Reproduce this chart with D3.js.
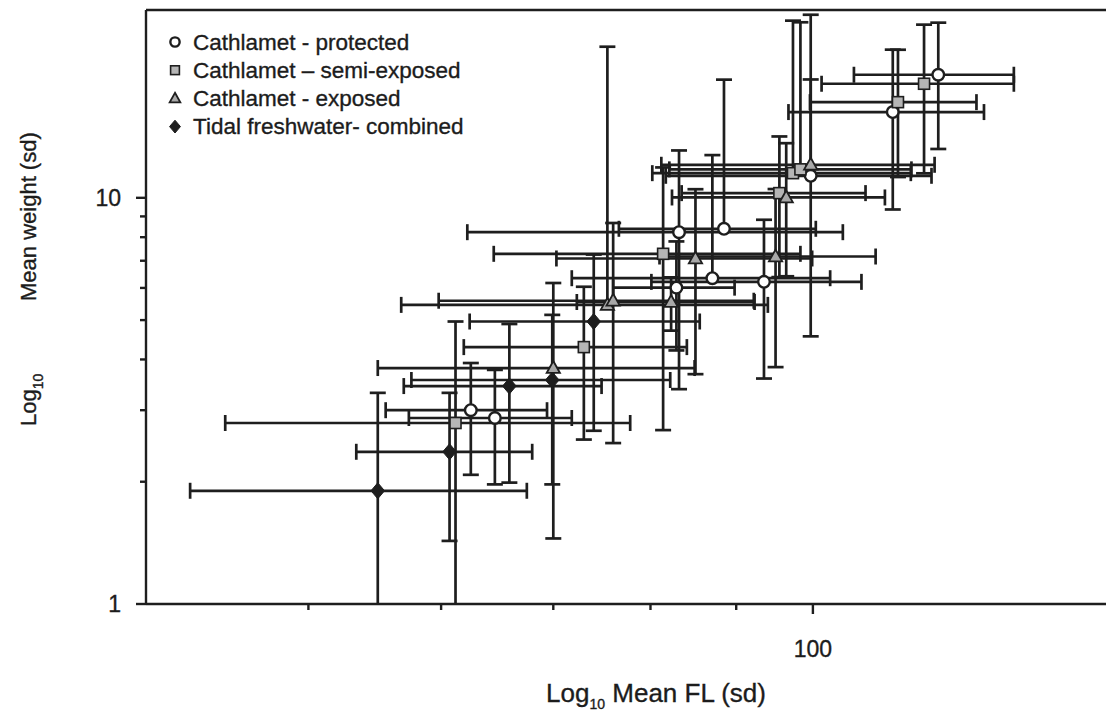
<!DOCTYPE html>
<html>
<head>
<meta charset="utf-8">
<script src="https://cdn.jsdelivr.net/npm/d3@7"></script>
<style>
  body { margin: 0; background: #fff; }
  text { font-family: "Liberation Sans", Arial, sans-serif; fill: #1c1c1c; stroke: #1c1c1c; stroke-width: 0.35px; }
</style>
</head>
<body>
<svg id="chart" width="1106" height="723"></svg>
<script>
// Mean fork length (mm) and mean weight (g), each with its standard deviation

// Cathlamet - protected
const protFL     = [62.5, 64.6, 83.2, 88.5, 82.9, 87.1, 93.5, 99.7, 111.6, 118.8];
const protFLsd   = [6.9, 7.2, 21.0, 11.9, 6.9, 15.3, 13.4, 18.0, 14.9, 13.0];
const protWt     = [3.00, 2.87, 8.23, 8.39, 6.01, 6.34, 6.21, 11.33, 16.26, 20.09];
const protWtsd   = [0.92, 0.90, 4.85, 11.15, 1.8, 6.4, 2.62, 16.9, 6.9, 6.9];

// Cathlamet - semi-exposed
const semiFL     = [61.2, 73.0, 81.4, 95.5, 97.3, 98.3, 112.4, 116.5];
const semiFLsd   = [16.6, 11.1, 16.9, 12.0, 17.1, 16.2, 12.8, 15.3];
const semiWt     = [2.79, 4.29, 7.28, 10.27, 11.5, 11.75, 17.2, 19.09];
const semiWtsd   = [2.17, 1.75, 4.6, 3.89, 15.8, 15.3, 5.95, 7.6];

// Cathlamet - exposed
const expFL      = [70.0, 75.4, 76.0, 82.3, 85.1, 95.0, 96.4, 99.7];
const expFLsd    = [15.0, 18.6, 16.2, 10.0, 14.8, 14.0, 14.0, 18.5];
const expWt      = [3.81, 5.45, 5.58, 5.54, 7.09, 7.17, 10.02, 12.06];
const expWtsd    = [2.36, 18.1, 3.09, 0.83, 3.41, 3.34, 3.61, 7.5];

// Tidal freshwater - combined
const tidalFL    = [55.0, 60.7, 65.9, 69.9, 74.0];
const tidalFLsd  = [12.5, 7.3, 8.9, 12.3, 11.6];
const tidalWt    = [1.90, 2.37, 3.44, 3.56, 4.96];
const tidalWtsd  = [1.41, 0.94, 1.45, 1.59, 2.29];

const seriesNames = ["Cathlamet - protected", "Cathlamet \u2013 semi-exposed",
                     "Cathlamet - exposed", "Tidal freshwater- combined"];
const seriesShapes = ["circle", "square", "triangle", "diamond"];

const xTickMajor = [100];
const xTickMinor = [50, 60, 70, 80, 90];
const yTickMajor = [1, 10];
const yTickMinor = [2, 3, 4, 5, 6, 7, 8, 9];

const xTitleMain = "Log", xTitleSub = "10", xTitleRest = " Mean FL (sd)";
const yTitleMain = "Log", yTitleSub = "10", yTitleRest = "Mean weight (sd)";

// ---------------------------------------------------------------------------
function buildSeries(fl, flsd, wt, wtsd) {
  return fl.map((v, i) => ({ x: v, xsd: flsd[i], y: wt[i], ysd: wtsd[i] }));
}
const series = [
  buildSeries(protFL, protFLsd, protWt, protWtsd),
  buildSeries(semiFL, semiFLsd, semiWt, semiWtsd),
  buildSeries(expFL, expFLsd, expWt, expWtsd),
  buildSeries(tidalFL, tidalFLsd, tidalWt, tidalWtsd)
];

const plot = { left: 146, right: 1108, top: 10, bottom: 604 };
const x = d3.scaleLog().domain([40, 150]).range([plot.left, plot.right]);
const y = d3.scaleLog().domain([1, 29]).range([plot.bottom, plot.top]);

const svg = d3.select("#chart");
const ink = "#1e1e1e";

svg.append("defs").append("clipPath").attr("id", "plotClip")
  .append("rect")
  .attr("x", plot.left).attr("y", plot.top)
  .attr("width", plot.right - plot.left).attr("height", plot.bottom - plot.top);

// ---- error bars -----------------------------------------------------------
const bars = svg.append("g").attr("clip-path", "url(#plotClip)")
  .attr("stroke", ink).attr("stroke-width", 2.7).attr("fill", "none");
const cap = 8;

series.forEach(pts => {
  pts.forEach(p => {
    const cx = x(p.x), cy = y(p.y);
    // horizontal (fork length)
    const hi = p.x + p.xsd, lo = p.x - p.xsd;
    bars.append("line").attr("x1", cx).attr("x2", x(hi)).attr("y1", cy).attr("y2", cy);
    bars.append("line").attr("x1", x(hi)).attr("x2", x(hi)).attr("y1", cy - cap).attr("y2", cy + cap);
    if (lo > 0) {
      bars.append("line").attr("x1", cx).attr("x2", x(lo)).attr("y1", cy).attr("y2", cy);
      bars.append("line").attr("x1", x(lo)).attr("x2", x(lo)).attr("y1", cy - cap).attr("y2", cy + cap);
    }
    // vertical (weight) - a non-positive lower end cannot be drawn on a log axis
    const top = p.y + p.ysd, bot = p.y - p.ysd;
    bars.append("line").attr("x1", cx).attr("x2", cx).attr("y1", cy).attr("y2", y(top));
    bars.append("line").attr("x1", cx - cap).attr("x2", cx + cap).attr("y1", y(top)).attr("y2", y(top));
    if (bot > 0) {
      const yb = Math.min(y(bot), plot.bottom + 20);
      bars.append("line").attr("x1", cx).attr("x2", cx).attr("y1", cy).attr("y2", yb);
      bars.append("line").attr("x1", cx - cap).attr("x2", cx + cap).attr("y1", yb).attr("y2", yb);
    }
  });
});

// ---- markers --------------------------------------------------------------
function drawMarker(g, shape, cx, cy, scale) {
  const s = scale || 1;
  if (shape === "circle") {
    g.append("circle").attr("cx", cx).attr("cy", cy).attr("r", 5.8 * s)
      .attr("fill", "#fff").attr("stroke", ink).attr("stroke-width", 2.4);
  } else if (shape === "square") {
    const h = 5.5 * s;
    g.append("rect").attr("x", cx - h).attr("y", cy - h).attr("width", 2 * h).attr("height", 2 * h)
      .attr("fill", "#b5b5b5").attr("stroke", ink).attr("stroke-width", 1.6);
  } else if (shape === "triangle") {
    const h = 7 * s;
    g.append("path")
      .attr("d", `M${cx},${cy - h}L${cx + h * 0.95},${cy + h * 0.7}L${cx - h * 0.95},${cy + h * 0.7}Z`)
      .attr("fill", "#a8a8a8").attr("stroke", ink).attr("stroke-width", 1.8);
  } else {
    const h = 8 * s, w = 6.8 * s;
    g.append("path")
      .attr("d", `M${cx},${cy - h}L${cx + w},${cy}L${cx},${cy + h}L${cx - w},${cy}Z`)
      .attr("fill", ink).attr("stroke", ink).attr("stroke-width", 1);
  }
}

const marks = svg.append("g");
series.forEach((pts, si) => {
  pts.forEach(p => drawMarker(marks, seriesShapes[si], x(p.x), y(p.y)));
});

// ---- axes and frame -------------------------------------------------------
const axes = svg.append("g").attr("stroke", ink).attr("stroke-width", 2.4);
axes.append("line").attr("x1", plot.left).attr("x2", plot.left).attr("y1", plot.top).attr("y2", plot.bottom);
axes.append("line").attr("x1", plot.left).attr("x2", 1106).attr("y1", plot.bottom).attr("y2", plot.bottom);
axes.append("line").attr("x1", plot.left).attr("x2", 1106).attr("y1", plot.top).attr("y2", plot.top);

yTickMajor.forEach(v => axes.append("line").attr("x1", plot.left - 10).attr("x2", plot.left)
  .attr("y1", y(v)).attr("y2", y(v)));
yTickMinor.forEach(v => axes.append("line").attr("x1", plot.left - 6).attr("x2", plot.left)
  .attr("y1", y(v)).attr("y2", y(v)));
xTickMajor.forEach(v => axes.append("line").attr("x1", x(v)).attr("x2", x(v))
  .attr("y1", plot.bottom).attr("y2", plot.bottom + 10));
xTickMinor.forEach(v => axes.append("line").attr("x1", x(v)).attr("x2", x(v))
  .attr("y1", plot.bottom).attr("y2", plot.bottom + 6));

yTickMajor.forEach(v => svg.append("text").attr("x", 121).attr("y", y(v) + 8)
  .attr("text-anchor", "end").attr("font-size", 23).text(d3.format("d")(v)));
xTickMajor.forEach(v => svg.append("text").attr("x", x(v)).attr("y", 657)
  .attr("text-anchor", "middle").attr("font-size", 23).text(d3.format("d")(v)));

// x title
const xt = svg.append("text").attr("x", 656).attr("y", 702).attr("text-anchor", "middle")
  .attr("font-size", 26);
xt.append("tspan").text(xTitleMain);
xt.append("tspan").attr("font-size", 14).attr("dy", 7).text(xTitleSub);
xt.append("tspan").attr("dy", -7).text(xTitleRest);

// y title
const yt = svg.append("g").attr("transform", "translate(36,0) rotate(-90)");
const yt1 = yt.append("text").attr("x", -426).attr("y", 0).attr("font-size", 22);
yt1.append("tspan").text(yTitleMain);
yt1.append("tspan").attr("font-size", 14).attr("dy", 7).text(yTitleSub);
yt.append("text").attr("x", -301).attr("y", 0).attr("font-size", 22).text(yTitleRest);

// ---- legend ---------------------------------------------------------------
const legend = svg.append("g");
seriesNames.forEach((name, i) => {
  const cy = 42 + i * 28.2;
  drawMarker(legend, seriesShapes[i], 175, cy, 0.8);
  legend.append("text").attr("x", 193).attr("y", cy + 7.5).attr("font-size", 22.5).text(name);
});
</script>
</body>
</html>
